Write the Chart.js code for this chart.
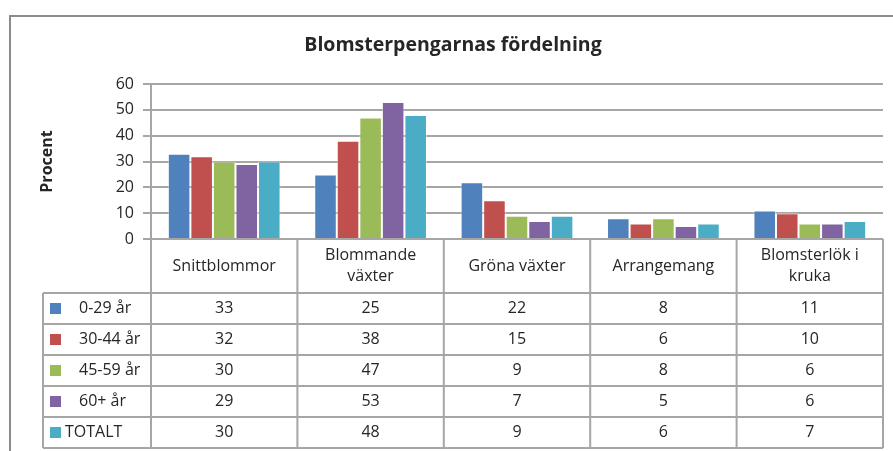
<!DOCTYPE html>
<html>
<head>
<meta charset="utf-8">
<script src="https://cdn.jsdelivr.net/npm/chart.js@4.4.1/dist/chart.umd.min.js"></script>
<style>
  html, body { margin: 0; padding: 0; background: #fff; }
  #wrap { width: 893px; height: 451px; }
</style>
</head>
<body>
<div id="wrap"><canvas id="chart" width="893" height="451"></canvas></div>
<script>
// kategorier och serier (läst från datatabellen)
const categories = ['Snittblommor', ['Blommande', 'växter'], 'Gröna växter', 'Arrangemang', ['Blomsterlök i', 'kruka']];
const seriesNames = ['0-29 år', '30-44 år', '45-59 år', '60+ år', 'TOTALT'];
const age0_29 = [33, 25, 22, 8, 11];
const age30_44 = [32, 38, 15, 6, 10];
const age45_59 = [30, 47, 9, 8, 6];
const age60plus = [29, 53, 7, 5, 6];
const totalt = [30, 48, 9, 6, 7];
const yTicks = [0, 10, 20, 30, 40, 50, 60];

const seriesValues = [age0_29, age30_44, age45_59, age60plus, totalt];
const colors = ['#4f81bd', '#c0504d', '#9bbb59', '#8064a2', '#4bacc6'];
const FONT = '"Open Sans", "Liberation Sans", sans-serif';
const GRID = '#a6a6a6';
const TEXT = '#262626';

// rita titel, axeltitel, ram och datatabell
const tablePlugin = {
    id: 'dataTable',
    afterDraw(chart) {
        const ctx = chart.ctx;
        const area = chart.chartArea;
        const n = categories.length;
        const colW = (area.right - area.left) / n;
        const legendLeft = 43;
        const headerBottom = 293;
        const rowH = 31;
        const tableBottom = headerBottom + rowH * seriesNames.length;

        ctx.save();
        // yttre ram
        ctx.strokeStyle = '#8c8c8c';
        ctx.lineWidth = 2;
        ctx.beginPath();
        ctx.moveTo(10, 460);
        ctx.lineTo(10, 16);
        ctx.lineTo(900, 16);
        ctx.stroke();

        // titel
        ctx.fillStyle = TEXT;
        ctx.font = 'bold 19.5px ' + FONT;
        ctx.textAlign = 'center';
        ctx.textBaseline = 'middle';
        ctx.fillText('Blomsterpengarnas fördelning', 453, 45);

        // axeltitel
        ctx.save();
        ctx.translate(47, (area.top + area.bottom) / 2);
        ctx.rotate(-Math.PI / 2);
        ctx.font = 'bold 16px ' + FONT;
        ctx.fillText('Procent', 0, 0);
        ctx.restore();

        // tabellinjer
        ctx.strokeStyle = GRID;
        ctx.lineWidth = 2;
        ctx.beginPath();
        for (let r = 0; r <= seriesNames.length; r++) {
            const y = headerBottom + r * rowH;
            ctx.moveTo(legendLeft, y);
            ctx.lineTo(area.right, y);
        }
        ctx.moveTo(area.left, area.bottom);
        ctx.lineTo(area.right, area.bottom);
        ctx.moveTo(legendLeft, headerBottom);
        ctx.lineTo(legendLeft, tableBottom);
        for (let c = 0; c <= n; c++) {
            const x = area.left + c * colW;
            ctx.moveTo(x, area.bottom);
            ctx.lineTo(x, tableBottom);
        }
        ctx.stroke();

        // kategorirubriker
        ctx.fillStyle = TEXT;
        ctx.font = '16px ' + FONT;
        const xScale = chart.scales.x;
        const headMid = (area.bottom + headerBottom) / 2;
        categories.forEach((cat, i) => {
            const cx = xScale.getPixelForValue(i);
            const lines = Array.isArray(cat) ? cat : [cat];
            const lh = 21;
            lines.forEach((line, k) => {
                ctx.fillText(line, cx, headMid + (k - (lines.length - 1) / 2) * lh);
            });
        });

        // rader
        seriesNames.forEach((name, r) => {
            const cy = headerBottom + r * rowH + rowH / 2;
            ctx.fillStyle = colors[r];
            ctx.fillRect(50, cy - 5.5, 11, 11);
            ctx.fillStyle = TEXT;
            ctx.textAlign = 'left';
            ctx.fillText(name, r === seriesNames.length - 1 ? 65 : 79, cy);
            ctx.textAlign = 'center';
            seriesValues[r].forEach((v, i) => {
                ctx.fillText(String(v), xScale.getPixelForValue(i), cy);
            });
        });
        ctx.restore();
    }
};

new Chart(document.getElementById('chart'), {
    type: 'bar',
    data: {
        labels: categories,
        datasets: seriesNames.map((name, i) => ({
            label: name,
            data: seriesValues[i],
            backgroundColor: colors[i],
            borderColor: 'rgba(255,255,255,0.45)',
            borderWidth: 1,
            categoryPercentage: 0.77,
            barPercentage: 1.0
        }))
    },
    options: {
        responsive: false,
        animation: false,
        layout: { padding: { left: 0, right: 10, top: 84, bottom: 212 } },
        plugins: {
            legend: { display: false },
            title: { display: false },
            tooltip: { enabled: false }
        },
        scales: {
            x: { display: false },
            y: {
                min: 0,
                max: 60,
                afterFit(scale) { scale.width = 151; },
                afterBuildTicks(scale) { scale.ticks = yTicks.map(v => ({ value: v })); },
                ticks: {
                    color: TEXT,
                    padding: 9,
                    font: { family: FONT, size: 16 }
                },
                grid: {
                    color: GRID,
                    lineWidth: 2,
                    tickLength: 8,
                    drawTicks: true
                },
                border: { display: true, color: GRID, width: 2 }
            }
        }
    },
    plugins: [tablePlugin]
});
</script>
</body>
</html>
